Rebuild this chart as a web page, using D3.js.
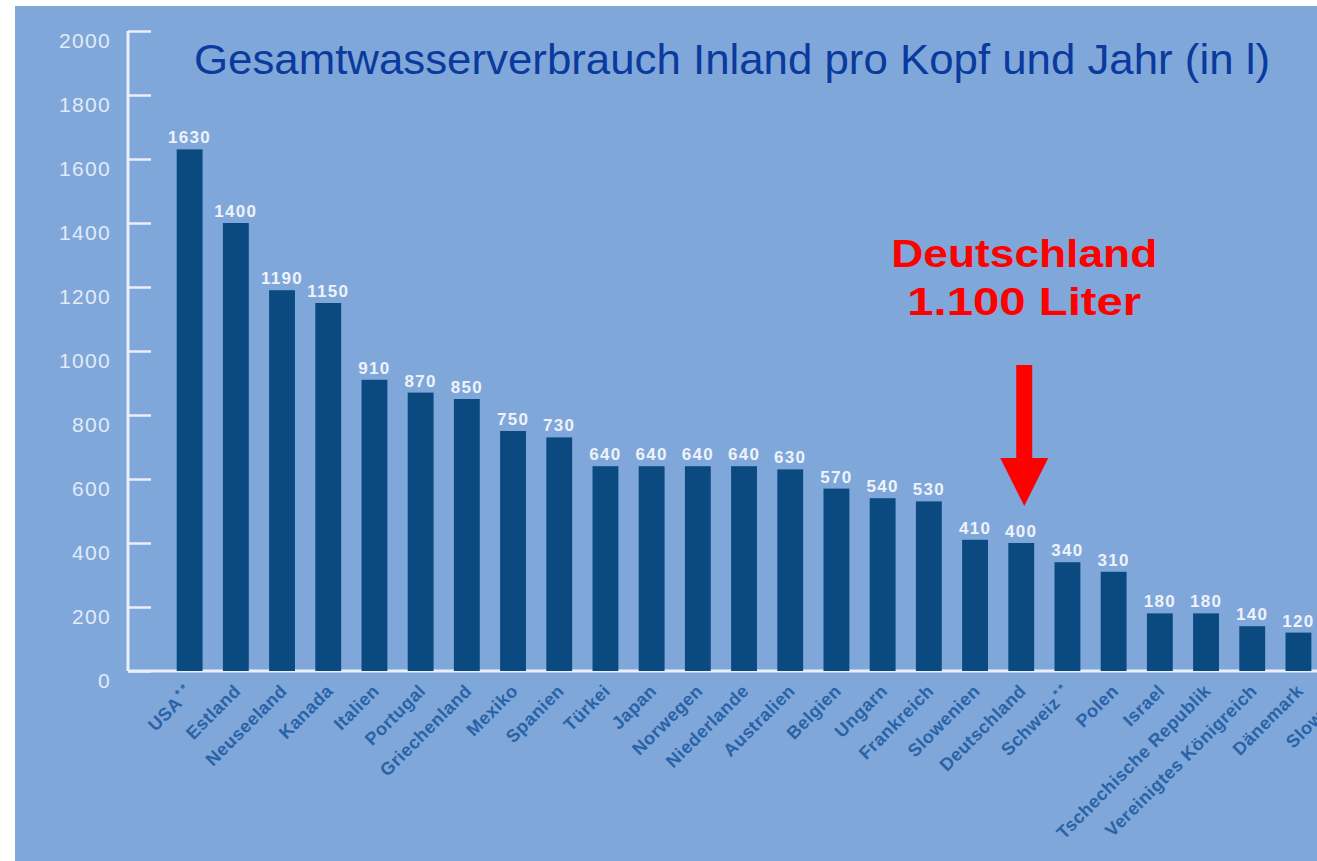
<!DOCTYPE html>
<html>
<head>
<meta charset="utf-8">
<script src="https://cdn.jsdelivr.net/npm/d3@7"></script>
<style>
  body { margin: 0; background: #ffffff; }
  svg { display: block; }
</style>
</head>
<body>
<script>
//chart data
var categories = ["USA**", "Estland", "Neuseeland", "Kanada", "Italien", "Portugal",
    "Griechenland", "Mexiko", "Spanien", "Türkei", "Japan", "Norwegen", "Niederlande",
    "Australien", "Belgien", "Ungarn", "Frankreich", "Slowenien", "Deutschland",
    "Schweiz**", "Polen", "Israel", "Tschechische Republik", "Vereinigtes Königreich",
    "Dänemark", "Slowakei"];
var values = [1630, 1400, 1190, 1150, 910, 870, 850, 750, 730, 640, 640, 640, 640,
    630, 570, 540, 530, 410, 400, 340, 310, 180, 180, 140, 120, null]; //last bar is cut off in the picture
var yTicks = [0, 200, 400, 600, 800, 1000, 1200, 1400, 1600, 1800, 2000];
var title = "Gesamtwasserverbrauch Inland pro Kopf und Jahr (in l)";
var noteLines = ["Deutschland", "1.100 Liter"];
var noteCategory = "Deutschland";

var width = 1317,
    height = 861;

var svg = d3.select("body")
    .append("svg")
    .attr("width", width)
    .attr("height", height);

//blue panel, leaves a thin white strip top and left
svg.append("rect")
    .attr("x", 15)
    .attr("y", 6)
    .attr("width", width - 15)
    .attr("height", height - 6)
    .attr("fill", "#80a7da");

//scales
var x = d3.scaleBand()
    .domain(categories)
    .range([176.7, 176.7 + 46.2 * (categories.length - 0.44)])
    .paddingInner(0.44)
    .paddingOuter(0);

var y = d3.scaleLinear()
    .domain([0, 2000])
    .range([671, 31]);

//y axis, drawn with d3.axisRight so the ticks point into the chart
var yAxis = svg.append("g")
    .attr("transform", "translate(128,0)")
    .call(d3.axisRight(y).tickValues(yTicks).tickSize(23).tickFormat(""));

yAxis.select(".domain")
    .attr("d", "M0," + y(2000) + "V" + y(0))
    .attr("stroke", "#e9f0fa")
    .attr("stroke-width", 3);

yAxis.selectAll(".tick line")
    .attr("stroke", "#e9f0fa")
    .attr("stroke-width", 2.5);

//tick labels sit a little below their ticks in the original
svg.selectAll(".ylab")
    .data(yTicks)
    .enter()
    .append("text")
    .attr("class", "ylab")
    .attr("x", 111)
    .attr("y", function(d){ return y(d) + 17; })
    .attr("text-anchor", "end")
    .attr("font-family", "Liberation Sans, Arial, sans-serif")
    .attr("font-size", 21)
    .attr("letter-spacing", 1.3)
    .attr("fill", "#e3ebf7")
    .text(function(d){ return d; });

//baseline
svg.append("line")
    .attr("x1", 128)
    .attr("x2", width)
    .attr("y1", y(0))
    .attr("y2", y(0))
    .attr("stroke", "#e9f0fa")
    .attr("stroke-width", 3);

var data = categories.map(function(c, i){
    return { name: c, value: values[i] };
});
var shown = data.filter(function(d){ return d.value != null; });

//bars
svg.selectAll(".bar")
    .data(shown)
    .enter()
    .append("rect")
    .attr("class", "bar")
    .attr("x", function(d){ return x(d.name); })
    .attr("width", x.bandwidth())
    .attr("y", function(d){ return y(d.value); })
    .attr("height", function(d){ return y(0) - y(d.value); })
    .attr("fill", "#0a4a80");

//value labels
svg.selectAll(".val")
    .data(shown)
    .enter()
    .append("text")
    .attr("class", "val")
    .attr("x", function(d){ return x(d.name) + x.bandwidth() / 2; })
    .attr("y", function(d){ return y(d.value) - 6; })
    .attr("text-anchor", "middle")
    .attr("font-family", "Liberation Sans, Arial, sans-serif")
    .attr("font-weight", "bold")
    .attr("font-size", 17)
    .attr("letter-spacing", 1.3)
    .attr("fill", "#eef3fb")
    .text(function(d){ return d.value; });

//category labels, rotated 45 degrees
var catLabels = svg.selectAll(".cat")
    .data(data)
    .enter()
    .append("text")
    .attr("class", "cat")
    .attr("text-anchor", "end")
    .attr("transform", function(d){
        var cx = x(d.name) + x.bandwidth() / 2 + 6;
        return "translate(" + cx + ",692) rotate(-45)";
    })
    .attr("font-family", "Liberation Sans, Arial, sans-serif")
    .attr("font-weight", "bold")
    .attr("font-size", 18)
    .attr("letter-spacing", 0.5)
    .attr("fill", "#2a63a5");

catLabels.append("tspan")
    .text(function(d){ return d.name.replace("**", ""); });

catLabels.filter(function(d){ return d.name.indexOf("**") >= 0; })
    .append("tspan")
    .attr("font-size", 12)
    .attr("letter-spacing", 3)
    .attr("dy", -7)
    .attr("dx", 2)
    .text("**");

//title
svg.append("text")
    .attr("x", 194)
    .attr("y", 74)
    .attr("font-family", "Liberation Sans, Arial, sans-serif")
    .attr("font-size", 42)
    .attr("textLength", 1076)
    .attr("lengthAdjust", "spacingAndGlyphs")
    .attr("fill", "#0b3a9d")
    .text(title);

//red note with arrow pointing at Deutschland
var noteX = x(noteCategory) + x.bandwidth() / 2 + 3;
var noteLens = [266, 234];

svg.selectAll(".note")
    .data(noteLines)
    .enter()
    .append("text")
    .attr("class", "note")
    .attr("x", noteX)
    .attr("y", function(d, i){ return 267 + i * 48; })
    .attr("text-anchor", "middle")
    .attr("font-family", "Liberation Sans, Arial, sans-serif")
    .attr("font-weight", "bold")
    .attr("font-size", 38)
    .attr("textLength", function(d, i){ return noteLens[i]; })
    .attr("lengthAdjust", "spacingAndGlyphs")
    .attr("fill", "#ff0000")
    .text(function(d){ return d; });

var tipY = y(values[categories.indexOf(noteCategory)]) - 37;
svg.append("path")
    .attr("d", d3.line()([
        [noteX - 8, 365], [noteX + 8, 365], [noteX + 8, tipY - 48],
        [noteX + 24, tipY - 48], [noteX, tipY], [noteX - 24, tipY - 48],
        [noteX - 8, tipY - 48]
    ]) + "Z")
    .attr("fill", "#ff0000");
</script>
</body>
</html>
